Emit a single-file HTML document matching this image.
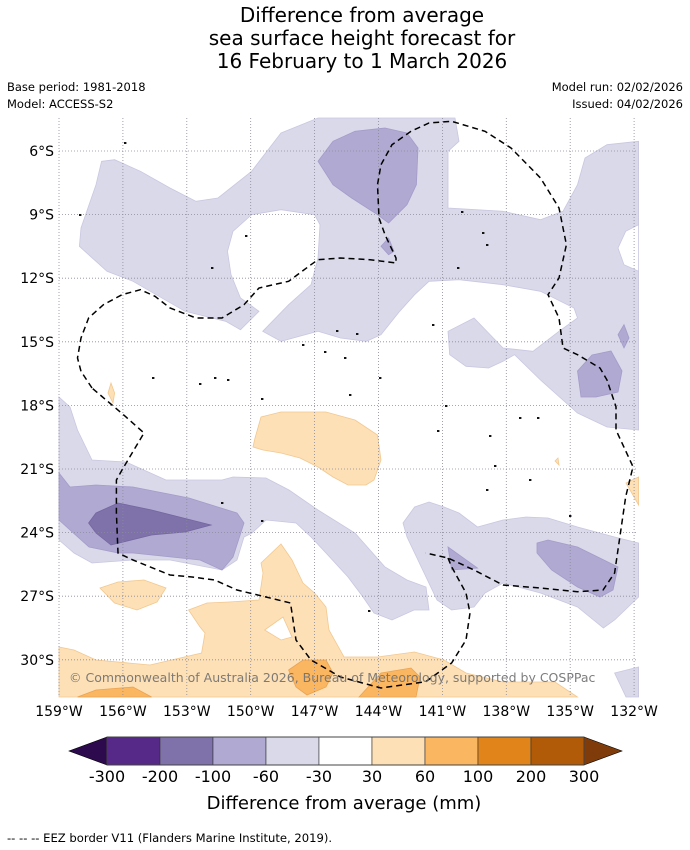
<!DOCTYPE html>
<html><head><meta charset="utf-8"><style>
body{margin:0;background:#fff;}
svg{display:block;font-family:"DejaVu Sans","Liberation Sans",sans-serif;}
</style></head><body>
<svg id="chart" width="690" height="850" viewBox="0 0 690 850">
<rect width="690" height="850" fill="#fff"/>
<g font-size="20" text-anchor="middle" fill="#000">
<text x="362" y="22">Difference from average</text>
<text x="362" y="45">sea surface height forecast for</text>
<text x="362" y="68">16 February to 1 March 2026</text>
</g>
<g font-size="11.5" fill="#000">
<text x="7" y="91">Base period: 1981-2018</text>
<text x="7" y="108">Model: ACCESS-S2</text>
<text x="683" y="91" text-anchor="end">Model run: 02/02/2026</text>
<text x="683" y="108" text-anchor="end">Issued: 04/02/2026</text>
</g>
<g id="map"></g>
<g id="axes"></g>
<g id="cbar"></g>
<text x="344" y="809" font-size="18" text-anchor="middle">Difference from average (mm)</text>
<text x="7" y="842" font-size="11.6">--  --  -- EEZ border V11 (Flanders Marine Institute, 2019).</text>
</svg>
<script>
// Colorbar data
const cbLevels = [-300,-200,-100,-60,-30,30,60,100,200,300];
const cbColors = ["#562888","#7f72ab","#b0a9d1","#d9d9ea","#ffffff","#fde0b6","#fbb661","#e1841a","#b15a08"];
const cbExtendLow = "#2d0a4e";
const cbExtendHigh = "#7f3c0a";
// Axis ticks
const lonTicks = [159,156,153,150,147,144,141,138,135,132];
const latTicks = [6,9,12,15,18,21,24,27,30];

const NS="http://www.w3.org/2000/svg";
function mk(tag,attrs,parent){const e=document.createElementNS(NS,tag);for(const k in attrs)e.setAttribute(k,attrs[k]);parent.appendChild(e);return e;}
const xLon = lonW => 59 + (159 - lonW) * 21.3;
const yLat = latS => 151 + (latS - 6) * 21.2;
const MAPX0=59, MAPX1=638, MAPY0=118, MAPY1=697;

// Contour geometry (map pixel outlines)
const lav1=[[101.6,161.3],[114.6,159.7],[140.5,171.3],[170,188],[196,201.3],[218,198],[251.6,171.3],[281,133],[318,118],[455,118],[459,141.3],[448,151.3],[448,208],[503,211.3],[540.5,219.7],[563,211.3],[577.5,184.7],[585,158],[607,144.7],[638.6,141.3],[638.6,430],[607,427],[577.5,413],[555,393],[540.5,380],[514.6,354.7],[503,361.3],[488.6,368],[466,366.3],[449.7,354.7],[448,331.3],[474,318],[503,348],[533,351.3],[559,331.3],[577.5,318],[574,308],[540.5,291.3],[503,284.7],[459,279.7],[429,281.3],[414.6,294.7],[399.7,311.3],[381,334.7],[366.4,341.3],[340.5,338],[318,331.3],[281,341.3],[262.7,331.3],[288.6,304.7],[311,284.7],[318,258],[320,224.7],[314.6,214.7],[281,209.7],[251.6,214.7],[233,231.3],[227.5,251.3],[231,274.7],[240.5,298],[259,311.3],[240.5,329.7],[225.7,321.3],[185,311.3],[133,281.3],[107,271.3],[88.6,254.7],[79.4,246.3],[81,228],[96,184.7]];
const hole1=[[638.6,224.7],[625.7,231.3],[618,248],[624,264.7],[638.6,271.3]];
const lav2=[[59,397],[70,407],[77.5,430],[92,460],[126,462],[166,480],[222,480],[233,477],[266,478],[289,490],[318,510],[355,533],[385,567],[407,580],[426,587],[429,610],[414,610],[392,620],[374,613],[363,597],[348,577],[326,553],[311,537],[296,523],[266,520],[252,533],[244,537],[237,560],[222,570],[170,560],[133,560],[92,563],[74,553],[59,540]];
const lav3=[[403,523],[414.6,507],[429,502],[444,507],[459,513],[477.5,527],[503,520],[526,517],[548,518],[577.5,527],[614.6,537],[638.6,543],[638.6,597],[614.6,620],[603.4,628],[577.5,607],[540.5,593],[503,583],[485,593],[474,607],[451.6,610],[437,600],[426,577],[414.6,553],[407,537]];
const lav4=[[614.6,673],[638.6,667],[638.6,697],[626,697]];
const med1=[[318,161.3],[333,141.3],[355,131.3],[385,128],[407,133],[418,148],[416.4,184.7],[407,204.7],[388.6,223],[377.5,214.7],[351.6,198],[333,184.7]];
const med2=[[381,246.3],[388.6,238],[394,251.3],[388.6,254.7]];
const med3=[[577.5,371],[592,355],[611,351],[622,371],[618,392],[596,397],[581,397]];
const med4=[[618,334.7],[624,324.7],[629,338],[624,348]];
const med5=[[59,473],[70,487],[96,485],[133,487],[189,498],[237,513],[244,523],[233,557],[222,570],[200,560],[133,553],[118,553],[89,547],[70,530],[59,520]];
const med6=[[537,543],[548,540],[577.5,547],[618,567],[613,590],[600,597],[577.5,587],[551.6,570],[537,553]];
const med7=[[448,547],[477.5,568],[451.6,570]];
const dark1=[[88.6,523],[96,513],[118,503],[151.6,510],[211,525],[185,532],[151.6,535],[111,545],[96,533]];
const peach1=[[255,438],[261,417],[281,412],[326,412],[355,420],[377.5,435],[381,460],[374,480],[366,485],[348,485],[333,477],[318,467],[300,458],[281,453],[263,450],[253,447]];
const peach2=[[100,588],[118,582],[144,580],[166,588],[157,602],[137,610],[114.5,603]];
const peach3=[[261,563],[281,544],[292,560],[303,583],[314.6,593],[326,607],[329,630],[344,657],[377.5,657],[414.5,652],[444,660],[466,673],[503,682],[555,682],[577.5,697],[59,697],[59,647],[74,650],[96,660],[150,665],[201.6,653],[205,633],[200,627],[188.6,610],[207,603],[229,602],[259,600],[263,573]];
const peach4=[[626,483],[638.6,477],[638.6,505]];
const peach5=[[111,383],[114.6,393],[113,403],[108,393]];
const peach6=[[555,461],[558,458],[559,465]];
const hole2=[[264.6,630],[283,617],[292,637],[281,640]];
const orng1=[[288.6,670],[303,660],[326,660],[333,673],[326,687],[307,695],[296,687]];
const orng2=[[359,697],[381,673],[411,668],[420,677],[416,697]];
const orng3=[[77.5,697],[96,690],[133,687],[151.6,697]];
const eez1=[[92,388],[81,371.3],[77.5,358],[81,338],[88.6,318],[103.4,304.7],[122,294.7],[140.5,289.7],[155,296.3],[170,308],[196,318],[222,318],[244,304.7],[259,288],[288.6,281.3],[311,264.7],[318,259.7],[340.5,258],[370,259.7],[396,263],[396,258],[385,234.7],[379,218],[377.5,184.7],[381,164.7],[392,144.7],[411,131.3],[429,123],[451.6,121.3],[485,131.3],[511,148],[540.5,178],[559,208],[566.4,244.7],[559,278],[548,294.7],[559,318],[563,348],[577.5,354.7],[600,368],[607,380],[616,406.7],[616,430],[633,466.7],[625.7,496.7],[614.6,573],[603,590],[577.5,591.7],[540.5,588],[503,585],[474,570],[448,558],[425.7,553]];
const eez2=[[448,558],[451.6,566.7],[466,593],[470,613],[466,640],[451.6,663],[425.7,681.7],[381,688],[340.5,677],[311,660],[296,640],[290.5,603],[266,597],[237,590],[214.6,580],[192,577],[170,575],[133,560],[118,553],[116.4,513],[116.4,480],[122,470],[144,433],[125.7,416.7],[92,388]];
const islands=[[125,143],[80,215],[246,236],[212,268],[462,212],[483,233],[487,245],[458,268],[337,331],[357,334],[303,345],[325,352],[345,358],[380,378],[215,378],[228,380],[200,384],[262,399],[446,406],[438,431],[490,436],[520,418],[538,418],[495,466],[487,490],[222,503],[262,521],[570,516],[530,480],[369,611],[433,325],[153,378],[350,395]];

const map=document.getElementById('map');
const pstr=a=>a.map(p=>p[0]+','+p[1]).join(' ');
function poly(a,fill,stroke,name){const e=mk('polygon',{points:pstr(a),fill:fill,stroke:stroke,'stroke-width':0.8},map);

return e;}
const L="#d9d9ea",LS="#c9c7e0",M="#b0a9d1",MS="#a49cc9",D="#7f72ab",P="#fde0b6",PS="#f2c890",O="#fbb661",OS="#eba352";
poly(lav1,L,LS,'contour-neg30-north');
poly(hole1,"#fff",LS,'contour-hole-east');
poly(lav2,L,LS,'contour-neg30-southwest');
poly(lav3,L,LS,'contour-neg30-southeast');
poly(lav4,L,LS,'contour-neg30-corner');
[med1,med2,med3,med4,med5,med6,med7].forEach((m,i)=>poly(m,M,MS,'contour-neg60-'+i));
poly(dark1,D,"#74669f",'contour-neg100');
[peach1,peach2,peach3,peach4,peach5,peach6].forEach((m,i)=>poly(m,P,PS,'contour-pos30-'+i));
poly(hole2,"#fff",PS,'contour-hole-south');
[orng1,orng2,orng3].forEach((m,i)=>poly(m,O,OS,'contour-pos60-'+i));

// grid
lonTicks.forEach(l=>{const x=xLon(l);const g=mk('line',{x1:x,x2:x,y1:MAPY0,y2:MAPY1,stroke:'#8a8a9a','stroke-width':0.8,'stroke-dasharray':'1,2'},map);

});
latTicks.forEach(l=>{const y=yLat(l);const g=mk('line',{x1:MAPX0,x2:MAPX1,y1:y,y2:y,stroke:'#8a8a9a','stroke-width':0.8,'stroke-dasharray':'1,2'},map);

});
// islands
islands.forEach(p=>{const c=mk('rect',{x:p[0]-1,y:p[1]-1,width:2.4,height:2,fill:'#111'},map);

});
// EEZ
[eez1,eez2].forEach(a=>{const e=mk('polyline',{points:pstr(a),fill:'none',stroke:'#000','stroke-width':1.5,'stroke-dasharray':'6,4'},map);

});
const wm=mk('text',{x:69,y:682,'font-size':12.5,fill:'#6f6f6f','fill-opacity':0.9},map);
wm.textContent="© Commonwealth of Australia 2026, Bureau of Meteorology, supported by COSPPac";



// axes labels
const axes=document.getElementById('axes');
lonTicks.forEach(l=>{const t=mk('text',{x:xLon(l),y:716,'font-size':14,'text-anchor':'middle'},axes);t.textContent=l+'°W';

});
latTicks.forEach(l=>{const t=mk('text',{x:54,y:yLat(l)+5,'font-size':14,'text-anchor':'end'},axes);t.textContent=l+'°S';

});

// colorbar
const cb=document.getElementById('cbar');
const CB0=107,CBW=53,CBY=737,CBH=28;
const cbx=i=>CB0+i*CBW;
const lt=mk('polygon',{points:`${cbx(0)},${CBY} ${cbx(0)-38},${CBY+CBH/2} ${cbx(0)},${CBY+CBH}`,fill:cbExtendLow,stroke:'#000','stroke-width':0.6},cb);


const n=cbColors.length;
const rt=mk('polygon',{points:`${cbx(n)},${CBY} ${cbx(n)+38},${CBY+CBH/2} ${cbx(n)},${CBY+CBH}`,fill:cbExtendHigh,stroke:'#000','stroke-width':0.6},cb);


cbColors.forEach((c,i)=>{const r=mk('rect',{x:cbx(i),y:CBY,width:CBW,height:CBH,fill:c,stroke:'#333','stroke-width':0.6},cb);

});
mk('rect',{x:cbx(0),y:CBY,width:CBW*n,height:CBH,fill:'none',stroke:'#444','stroke-width':1},cb);
cbLevels.forEach((v,i)=>{const t=mk('text',{x:cbx(i),y:782,'font-size':16,'text-anchor':'middle'},cb);t.textContent=v;

});
</script>
</body></html>
